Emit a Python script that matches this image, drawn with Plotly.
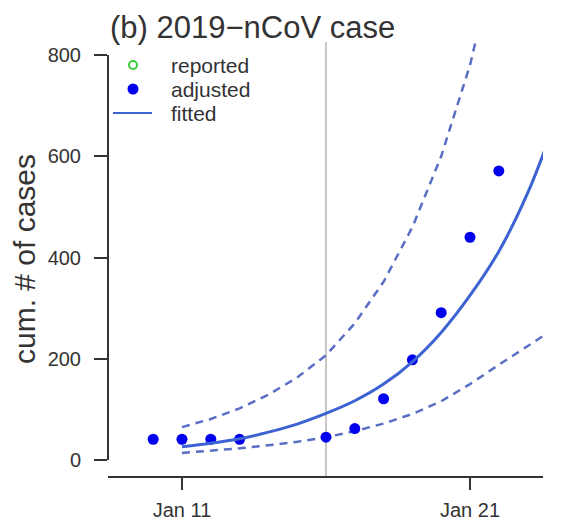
import plotly.graph_objects as go

# ---- data ----
obs_dates = ["2020-01-10", "2020-01-11", "2020-01-12", "2020-01-13", "2020-01-16",
             "2020-01-17", "2020-01-18", "2020-01-19", "2020-01-20", "2020-01-21", "2020-01-22"]
reported_cases = [41, 41, 41, 41, 45, 62, 121, 198, 291, 440, 571]
adjusted_cases = [41, 41, 41, 41, 45, 62, 121, 198, 291, 440, 571]

fit_dates = ["2020-01-11", "2020-01-12", "2020-01-13", "2020-01-14", "2020-01-15", "2020-01-16",
             "2020-01-17", "2020-01-18", "2020-01-19", "2020-01-20", "2020-01-21", "2020-01-22",
             "2020-01-23", "2020-01-24"]
fitted = [26, 33, 42, 55, 71, 92, 117, 150, 194, 252, 325, 412, 527, 675]
upper = [65, 81, 102, 129, 163, 207, 270, 352, 460, 600, 780, 1020, 1330, 1730]
lower = [14, 18, 23, 29, 36, 45, 57, 72, 91, 116, 150, 188, 225, 262]

x_tick_vals = ["2020-01-11", "2020-01-21"]
x_tick_text = ["Jan 11", "Jan 21"]
y_tick_vals = [0, 200, 400, 600, 800]
divider_date = "2020-01-16"
legend_labels = ["reported", "adjusted", "fitted"]

FONT = "Liberation Sans, Arial, Helvetica, sans-serif"
TXT = "#333333"
LINE_BLUE = "#3d63d2"
DASH_BLUE = "#5a6ec4"
PT_BLUE = "#0000ee"
GREEN = "#3ccc3c"

# figure / plot-area geometry (pixels)
W, H = 557, 519
ML, MR, MT, MB = 100, 22, 34, 51
PW, PH = W - ML - MR, H - MT - MB


def px(xp):
    return (xp - ML) / PW


def py(yp):
    return 1 - (yp - MT) / PH


fig = go.Figure()

fig.add_trace(go.Scatter(
    x=fit_dates, y=upper, mode="lines", showlegend=False, hoverinfo="skip",
    line=dict(color=DASH_BLUE, width=2.5, dash="8px,6px")))
fig.add_trace(go.Scatter(
    x=fit_dates, y=lower, mode="lines", showlegend=False, hoverinfo="skip",
    line=dict(color=DASH_BLUE, width=2.5, dash="8px,6px")))

fig.add_trace(go.Scatter(
    x=obs_dates, y=reported_cases, mode="markers", name=legend_labels[0], showlegend=False,
    marker=dict(symbol="circle-open", size=7, color=GREEN, line=dict(width=2))))
fig.add_trace(go.Scatter(
    x=obs_dates, y=adjusted_cases, mode="markers", name=legend_labels[1], showlegend=False,
    marker=dict(symbol="circle", size=11, color=PT_BLUE, line=dict(width=0))))
fig.add_trace(go.Scatter(
    x=fit_dates, y=fitted, mode="lines", name=legend_labels[2], showlegend=False,
    line_shape="spline", line=dict(color=LINE_BLUE, width=3)))

# vertical divider
fig.add_shape(type="line", x0=divider_date, x1=divider_date, xref="x",
              y0=0, y1=1, yref="paper", line=dict(color="#b5b5b5", width=1.5), layer="below")
# y axis line from 0 to 800 (R style)
fig.add_shape(type="line", xref="paper", x0=0, x1=0, yref="y", y0=0, y1=800,
              line=dict(color=TXT, width=2))

# legend (R-style, drawn in the top-left of the plot)
leg_sym_x, leg_txt_x = 125, 161
leg_rows = [57, 81, 105]
fig.add_shape(type="circle", xref="paper", yref="paper", xsizemode="pixel", ysizemode="pixel",
              xanchor=px(leg_sym_x), yanchor=py(leg_rows[0]), x0=-4, x1=4, y0=-4, y1=4,
              line=dict(color=GREEN, width=2), fillcolor="rgba(0,0,0,0)")
fig.add_shape(type="circle", xref="paper", yref="paper", xsizemode="pixel", ysizemode="pixel",
              xanchor=px(leg_sym_x), yanchor=py(leg_rows[1]), x0=-5.5, x1=5.5, y0=-5.5, y1=5.5,
              line=dict(width=0), fillcolor=PT_BLUE)
fig.add_shape(type="line", xref="paper", yref="paper",
              x0=px(105), x1=px(144), y0=py(leg_rows[2]), y1=py(leg_rows[2]),
              line=dict(color=LINE_BLUE, width=2))
for lab, ry in zip(legend_labels, leg_rows):
    fig.add_annotation(text=lab, xref="paper", yref="paper", x=px(leg_txt_x), y=py(ry),
                       xanchor="left", yanchor="middle", showarrow=False,
                       font=dict(size=21, family=FONT, color=TXT))

fig.update_layout(
    width=W, height=H,
    margin=dict(l=ML, r=MR, t=MT, b=MB, autoexpand=False),
    paper_bgcolor="white", plot_bgcolor="white",
    font=dict(family=FONT, color=TXT, size=20),
    title=dict(text="(b) 2019\u2212nCoV case", xref="container", x=102 / W, xanchor="left",
               yref="container", y=1 - 19 / H, yanchor="middle", automargin=False,
               font=dict(size=31, family=FONT, color=TXT)),
    showlegend=False,
    xaxis=dict(type="date", range=["2020-01-08 10:21", "2020-01-23 12:50"],
               tickvals=x_tick_vals, ticktext=x_tick_text, automargin=False,
               showgrid=False, zeroline=False, showline=True, linecolor=TXT, linewidth=2,
               ticks="outside", ticklen=12, tickwidth=2, tickcolor=TXT,
               ticklabelstandoff=3,
               tickfont=dict(size=20, family=FONT, color=TXT)),
    yaxis=dict(range=[-31.6, 825.7], tickvals=y_tick_vals, automargin=False,
               showgrid=False, zeroline=False, showline=False,
               ticks="outside", ticklen=13, tickwidth=2, tickcolor=TXT,
               ticklabelstandoff=9,
               tickfont=dict(size=20, family=FONT, color=TXT),
               title=dict(text="cum. # of cases", font=dict(size=30, family=FONT, color=TXT),
                          standoff=6)),
)

fig.write_html("out.html")
